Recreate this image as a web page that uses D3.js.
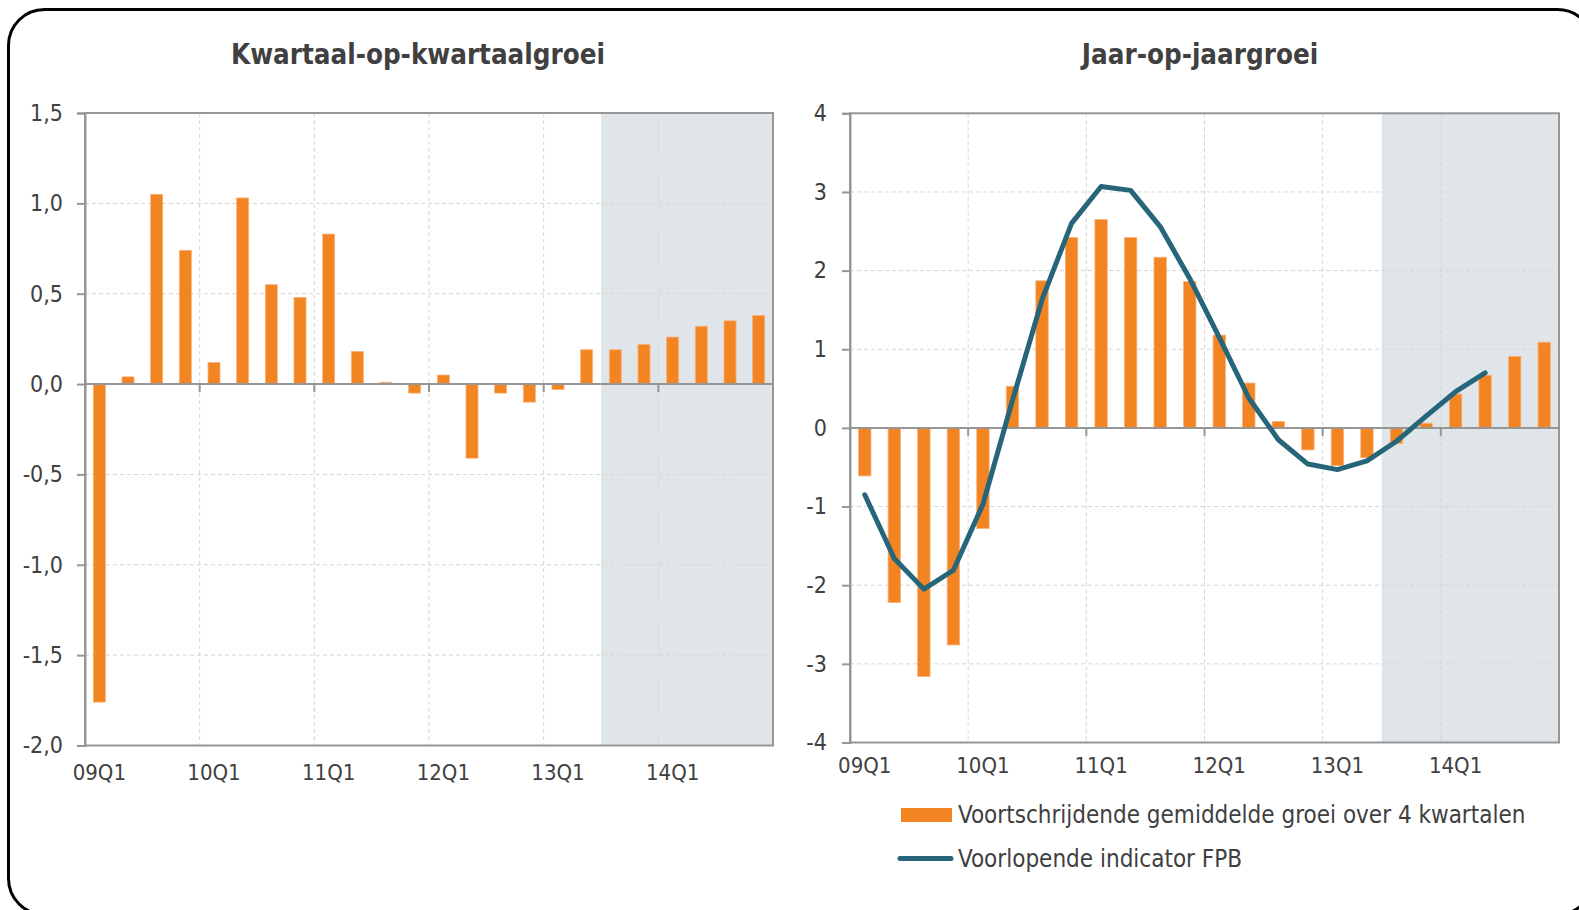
<!DOCTYPE html>
<html>
<head>
<meta charset="utf-8">
<script src="https://cdn.jsdelivr.net/npm/d3@7"></script>
<style>
  html, body { margin: 0; padding: 0; background: #fff; }
  svg text { font-family: "DejaVu Sans Condensed", "DejaVu Sans", sans-serif; fill: #404040; }
</style>
</head>
<body>
<svg id="canvas"></svg>
<script>
const quarters = ["09Q1", "09Q2", "09Q3", "09Q4", "10Q1", "10Q2", "10Q3", "10Q4",
    "11Q1", "11Q2", "11Q3", "11Q4", "12Q1", "12Q2", "12Q3", "12Q4",
    "13Q1", "13Q2", "13Q3", "13Q4", "14Q1", "14Q2", "14Q3", "14Q4"];
const yearStarts = ["09Q1", "10Q1", "11Q1", "12Q1", "13Q1", "14Q1"];
const forecastFrom = "13Q3";

// kwartaal-op-kwartaalgroei (%)
const qoqGrowth = [-1.76, 0.04, 1.05, 0.74, 0.12, 1.03, 0.55, 0.48,
    0.83, 0.18, 0.01, -0.05, 0.05, -0.41, -0.05, -0.10,
    -0.03, 0.19, 0.19, 0.22, 0.26, 0.32, 0.35, 0.38];

// jaar-op-jaargroei: voortschrijdend gemiddelde over 4 kwartalen
const movingAvg = [-0.61, -2.22, -3.16, -2.76, -1.28, 0.53, 1.87, 2.42,
    2.65, 2.42, 2.17, 1.86, 1.18, 0.57, 0.08, -0.28,
    -0.48, -0.38, -0.20, 0.06, 0.43, 0.67, 0.91, 1.09];

// voorlopende indicator FPB
const fpbIndicator = [-0.85, -1.66, -2.05, -1.81, -0.97, 0.35, 1.63, 2.60,
    3.07, 3.02, 2.56, 1.90, 1.15, 0.38, -0.15, -0.46,
    -0.53, -0.42, -0.17, 0.15, 0.46, 0.70, null, null];

const leftTicks = [-2, -1.5, -1, -0.5, 0, 0.5, 1, 1.5];
const rightTicks = [-4, -3, -2, -1, 0, 1, 2, 3, 4];

const titles = ["Kwartaal-op-kwartaalgroei", "Jaar-op-jaargroei"];
const legendLabels = ["Voortschrijdende gemiddelde groei over 4 kwartalen", "Voorlopende indicator FPB"];

const orange = "#f28522";
const teal = "#27657a";
const shadeColor = "#dfe5e8";
const gridColor = "#d6d6d6";
const axisColor = "#969696";

const width = 1579, height = 910;

const svg = d3.select("#canvas")
    .attr("width", width)
    .attr("height", height);

// rounded frame
svg.append("rect")
    .attr("x", 8.5).attr("y", 9.5)
    .attr("width", 1585).attr("height", 905)
    .attr("rx", 36).attr("ry", 36)
    .attr("fill", "#fff")
    .attr("stroke", "#000")
    .attr("stroke-width", 3);

const commaFormat = d => d3.format(".1f")(d).replace(".", ",").replace("−", "-");
const intFormat = d => String(d);

const panels = [
    {left: 85, right: 773, top: 113, bottom: 745.5, domain: [-2, 1.5], ticks: leftTicks,
     format: commaFormat, bars: qoqGrowth, line: null, title: titles[0], titleX: 418,
     tickPad: 14, labelPad: 19},
    {left: 850, right: 1559, top: 113.3, bottom: 742.5, domain: [-4, 4], ticks: rightTicks,
     format: intFormat, bars: movingAvg, line: fpbIndicator, title: titles[1], titleX: 1200,
     tickPad: 15, labelPad: 15}
];

panels.forEach(p => {
    const x = d3.scaleBand()
        .domain(quarters)
        .range([p.left, p.right]);
    const y = d3.scaleLinear()
        .domain(p.domain)
        .range([p.bottom, p.top]);
    const bw = x.bandwidth();
    const barW = bw * 0.42;

    const g = svg.append("g");

    // forecast shading
    g.append("rect")
        .attr("x", x(forecastFrom))
        .attr("y", p.top)
        .attr("width", p.right - x(forecastFrom))
        .attr("height", p.bottom - p.top)
        .attr("fill", shadeColor);

    // horizontal grid
    g.selectAll(".hgrid")
        .data(p.ticks.filter(t => t !== p.domain[0] && t !== p.domain[1]))
        .enter()
        .append("line")
        .attr("x1", p.left).attr("x2", p.right)
        .attr("y1", d => y(d)).attr("y2", d => y(d))
        .attr("stroke", gridColor)
        .attr("stroke-width", 1)
        .attr("stroke-dasharray", "4,3");

    // vertical grid at year starts
    g.selectAll(".vgrid")
        .data(yearStarts.slice(1))
        .enter()
        .append("line")
        .attr("x1", d => x(d)).attr("x2", d => x(d))
        .attr("y1", p.top).attr("y2", p.bottom)
        .attr("stroke", gridColor)
        .attr("stroke-width", 1)
        .attr("stroke-dasharray", "4,3");

    // plot border
    g.append("rect")
        .attr("x", p.left).attr("y", p.top)
        .attr("width", p.right - p.left)
        .attr("height", p.bottom - p.top)
        .attr("fill", "none")
        .attr("stroke", axisColor)
        .attr("stroke-width", 2);

    // bars
    g.selectAll(".bar")
        .data(p.bars)
        .enter()
        .append("rect")
        .attr("x", (d, i) => x(quarters[i]) + (bw - barW) / 2)
        .attr("y", d => y(Math.max(0, d)))
        .attr("width", barW)
        .attr("height", d => Math.abs(y(d) - y(0)))
        .attr("fill", orange)
        .attr("stroke", "#f9b27c")
        .attr("stroke-width", 0.8);

    // zero line with year ticks
    g.append("line")
        .attr("x1", p.left).attr("x2", p.right)
        .attr("y1", y(0)).attr("y2", y(0))
        .attr("stroke", axisColor)
        .attr("stroke-width", 2);
    g.selectAll(".ztick")
        .data(yearStarts.slice(1))
        .enter()
        .append("line")
        .attr("x1", d => x(d)).attr("x2", d => x(d))
        .attr("y1", y(0)).attr("y2", y(0) + 8)
        .attr("stroke", axisColor)
        .attr("stroke-width", 2);

    // indicator line
    if (p.line) {
        const line = d3.line()
            .defined(d => d !== null)
            .x((d, i) => x(quarters[i]) + bw / 2)
            .y(d => y(d));
        g.append("path")
            .datum(p.line)
            .attr("d", line)
            .attr("fill", "none")
            .attr("stroke", teal)
            .attr("stroke-width", 5)
            .attr("stroke-linejoin", "round")
            .attr("stroke-linecap", "round");
    }

    // y axis
    const yAxis = g.append("g")
        .attr("transform", `translate(${p.left},0)`)
        .call(d3.axisLeft(y)
            .tickValues(p.ticks)
            .tickSize(8)
            .tickPadding(p.tickPad)
            .tickFormat(p.format));
    yAxis.select(".domain").attr("stroke", axisColor).attr("stroke-width", 2);
    yAxis.selectAll(".tick line").attr("stroke", axisColor).attr("stroke-width", 2);
    yAxis.selectAll("text").attr("font-size", 23).attr("fill", "#404040");

    // x labels
    const xAxis = g.append("g")
        .attr("transform", `translate(0,${p.bottom})`)
        .call(d3.axisBottom(x)
            .tickValues(yearStarts)
            .tickSize(0)
            .tickPadding(p.labelPad));
    xAxis.select(".domain").remove();
    xAxis.selectAll("text").attr("font-size", 22).attr("fill", "#404040");

    // title
    svg.append("text")
        .attr("x", p.titleX)
        .attr("y", 64)
        .attr("text-anchor", "middle")
        .attr("font-size", 27.5)
        .attr("font-weight", "bold")
        .text(p.title);
});

// legend
const legend = svg.append("g");
legend.append("rect")
    .attr("x", 901).attr("y", 808)
    .attr("width", 51).attr("height", 14)
    .attr("fill", orange);
legend.append("line")
    .attr("x1", 900).attr("x2", 951)
    .attr("y1", 858.5).attr("y2", 858.5)
    .attr("stroke", teal)
    .attr("stroke-width", 5)
    .attr("stroke-linecap", "round");
legend.selectAll(".ltext")
    .data(legendLabels)
    .enter()
    .append("text")
    .attr("x", 958)
    .attr("y", (d, i) => i === 0 ? 815 : 858.5)
    .attr("dominant-baseline", "central")
    .attr("font-size", 24)
    .text(d => d);
</script>
</body>
</html>
